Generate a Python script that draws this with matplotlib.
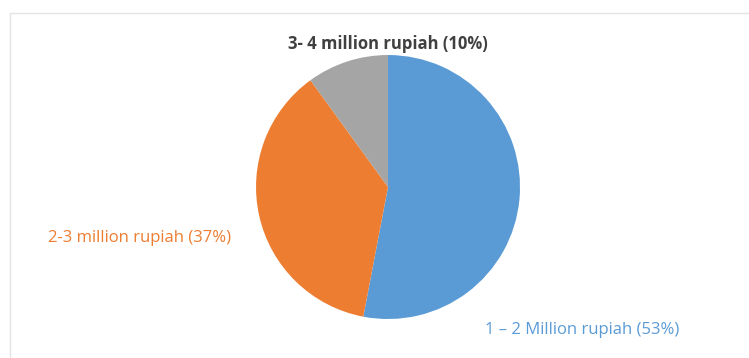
import matplotlib
matplotlib.use('Agg')
import matplotlib.pyplot as plt
from matplotlib.patches import Rectangle

plt.rcParams['font.family'] = ['Open Sans', 'DejaVu Sans']

categories = ['1 – 2 Million rupiah', '2-3 million rupiah', '3- 4 million rupiah']
shares = [53, 37, 10]
colors = ['#5B9BD5', '#ED7D31', '#A5A5A5']
label_colors = ['#5B9BD5', '#ED7D31', '#404040']
label_weights = ['normal', 'normal', 'bold']
# label positions in pie units (radius = 1)
label_pos = [(1.47, -1.08), (-1.88, -0.39), (0.0, 1.08)]

fig = plt.figure(figsize=(7.49, 3.58), dpi=100)

# faint chart frame
fig.patches.append(Rectangle((0.013, -0.01), 0.995, 0.975, transform=fig.transFigure,
                             fill=False, edgecolor='#e4e4e4', linewidth=1.0))

ax = fig.add_axes([0.3418, 0.1089, 0.3525, 0.7374])
ax.pie(shares, colors=colors, startangle=90, counterclock=False,
       wedgeprops=dict(linewidth=0))
ax.set_xlim(-1, 1)
ax.set_ylim(-1, 1)
ax.set_aspect('equal')
ax.axis('off')

for name, val, (x, y), c, w in zip(categories, shares, label_pos,
                                   label_colors, label_weights):
    ax.text(x, y, '%s (%d%%)' % (name, val), color=c, fontweight=w,
            fontsize=12, ha='center', va='center', clip_on=False)

fig.savefig('out.png', dpi=100)
